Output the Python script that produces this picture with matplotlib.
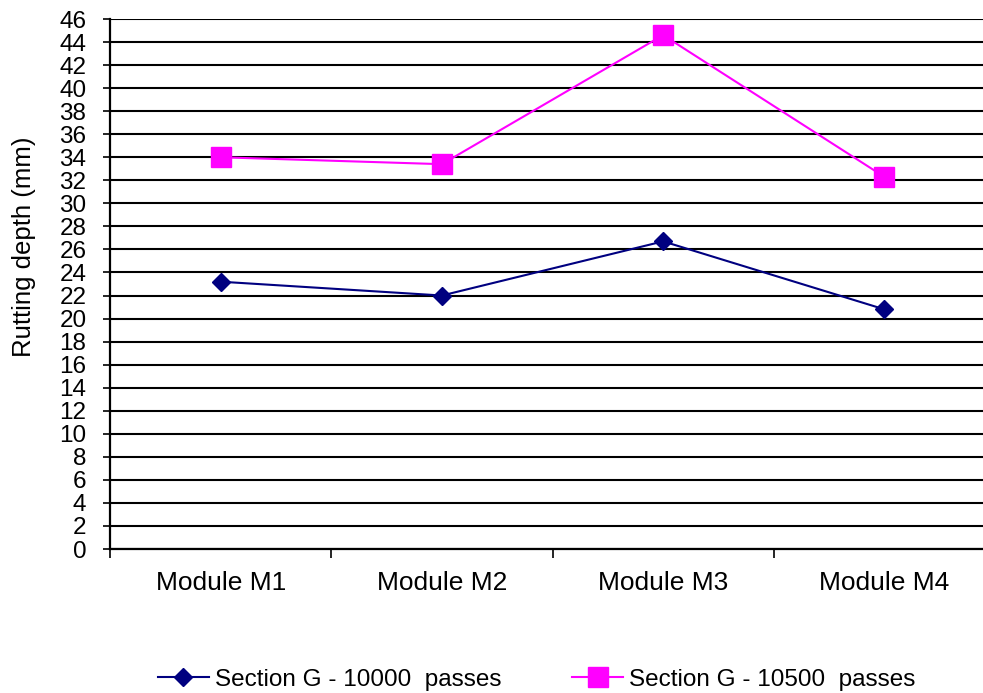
import numpy as np
import matplotlib
matplotlib.use('Agg')
import matplotlib.pyplot as plt
from matplotlib.ticker import FixedLocator, NullFormatter

plt.rcParams['font.family'] = ['Liberation Sans', 'DejaVu Sans']

# data
modules = ['Module M1', 'Module M2', 'Module M3', 'Module M4']
passes_10000 = [23.2, 22.0, 26.7, 20.8]
passes_10500 = [34.0, 33.4, 44.6, 32.3]
series_labels = ['Section G - 10000  passes', 'Section G - 10500  passes']
y_ticks = list(range(0, 47, 2))

fig = plt.figure(figsize=(9.83, 6.93), dpi=100)
# plot area runs slightly past the right edge, as in the original
ax = fig.add_axes([110 / 983, 1 - 549 / 693, 885 / 983, 530 / 693])

x = np.arange(1, len(modules) + 1)

for yv in y_ticks:
    ax.axhline(yv, color='black', lw=1.5, zorder=1)

ax.plot(x, passes_10000, color='#000080', lw=1.5, marker='D', ms=9.5,
        label=series_labels[0], zorder=3)
ax.plot(x, passes_10500, color='#FF00FF', lw=1.5, marker='s', ms=14,
        label=series_labels[1], zorder=3)

ax.set_xlim(0.5, len(modules) + 0.5)
ax.set_ylim(0, 46)

ax.set_xticks(x)
ax.set_xticklabels(modules, fontsize=19)
ax.tick_params(axis='x', which='major', length=0, pad=15.5)
ax.xaxis.set_minor_locator(FixedLocator(np.arange(0.5, len(modules) + 1, 1)))
ax.xaxis.set_minor_formatter(NullFormatter())
ax.tick_params(axis='x', which='minor', length=6.5, width=1.2, color='black',
               direction='out')

ax.set_yticks(y_ticks)
ax.tick_params(axis='y', length=5, width=1.2, pad=12, labelsize=17.5,
               direction='out')

for side in ['top', 'right']:
    ax.spines[side].set_visible(False)
ax.spines['left'].set_linewidth(1.6)
ax.spines['bottom'].set_linewidth(1.6)

ax.set_ylabel('Rutting depth (mm)', fontsize=18.5)
ax.yaxis.set_label_coords(-0.084, 0.57)

fig.legend(loc='center', bbox_to_anchor=(0.546, 0.019), ncol=2,
           frameon=False, fontsize=17.5, handlelength=2.1, handletextpad=0.25,
           columnspacing=2.9)

fig.savefig('out.png', dpi=100)
